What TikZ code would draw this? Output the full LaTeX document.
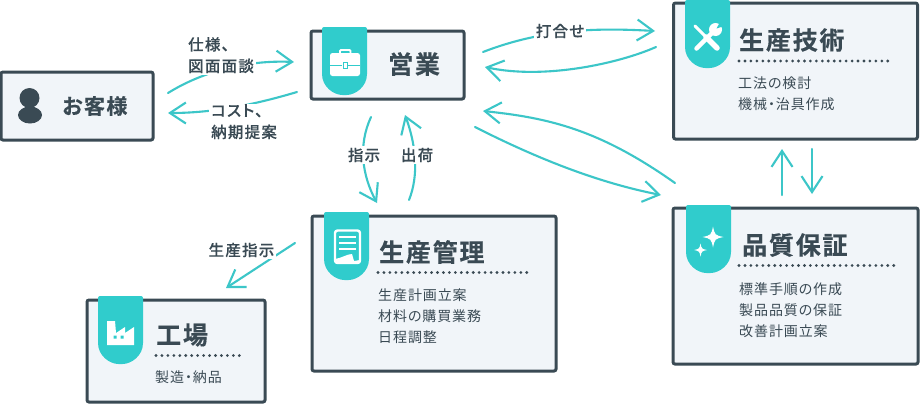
\documentclass[tikz,border=0pt]{standalone}
\usepackage{fontspec}
\usetikzlibrary{arrows.meta}
\setmainfont{Noto Sans CJK JP}[RawFeature=+palt,BoldFont={Noto Sans CJK JP Bold}]
\newfontfamily\ttlf[LetterSpace=7,RawFeature=+palt,FakeBold=0.4]{Noto Sans CJK JP Bold}
\newfontfamily\lblf[LetterSpace=8,RawFeature=+palt,FakeBold=0.15]{Noto Sans CJK JP Medium}
\newfontfamily\bodf[LetterSpace=6.5,RawFeature=+palt]{Noto Sans CJK JP}
\definecolor{ink}{HTML}{3A4A54}
\definecolor{teal}{HTML}{30CCCC}
\definecolor{arrowc}{HTML}{3CC6C8}
\definecolor{panel}{HTML}{F1F5F9}
\tikzset{
  x=1pt,y=-1pt,
  box/.style={draw=ink,fill=panel,line width=3pt,rounded corners=2pt,inner sep=0pt,outer sep=0pt},
  flow/.style={draw=arrowc,line width=2.1pt,line cap=round,-{Straight Barb[length=16pt,width=21pt,line width=2.1pt]}},
  ttl/.style={text=ink,anchor=west,inner sep=0pt,font=\ttlf\fontsize{25}{30}\selectfont},
  ttls/.style={text=ink,anchor=west,inner sep=0pt,font=\ttlf\fontsize{21}{24}\selectfont},
  bodyt/.style={text=ink,anchor=north west,inner sep=0pt,align=left,font=\bodf\fontsize{14}{21}\selectfont},
  lbl/.style={text=ink,fill=white,inner sep=2pt,align=left,font=\lblf\fontsize{15.5}{21.5}\selectfont},
  dots/.style={draw=ink,line width=3.1pt,line cap=round,dash pattern=on 0pt off 5.95pt},
}
\newcommand{\badge}[3]{% left x, top y, name
  \fill[teal,rounded corners=2pt] (#1,#2) -- (#1+45,#2) -- (#1+45,#2+45)
    .. controls (#1+45,#2+60) and (#1+33,#2+68) .. (#1+22.5,#2+68)
    .. controls (#1+12,#2+68) and (#1,#2+60) .. (#1,#2+45) -- cycle;
  \coordinate (#3) at (#1+22.5,#2+34);
}
\newcommand{\spark}[3]{% cx cy r
  \fill[white] (#1,#2-#3) .. controls (#1+0.18*#3,#2-0.18*#3) .. (#1+#3,#2)
   .. controls (#1+0.18*#3,#2+0.18*#3) .. (#1,#2+#3)
   .. controls (#1-0.18*#3,#2+0.18*#3) .. (#1-#3,#2)
   .. controls (#1-0.18*#3,#2-0.18*#3) .. (#1,#2-#3) -- cycle;
}
\begin{document}
\begin{tikzpicture}
\useasboundingbox[fill=white] (0,0) rectangle (920,405);
% boxes
\node[box,minimum width=152,minimum height=68] (kyaku) at (77,106) {};
\node[box,minimum width=153,minimum height=68] (eigyo) at (387.5,65) {};
\node[box,minimum width=244,minimum height=136] (gijutsu) at (795.5,71) {};
\node[box,minimum width=244,minimum height=155] (kanri) at (434,293.5) {};
\node[box,minimum width=178,minimum height=102] (kojo) at (176,351) {};
\node[box,minimum width=245,minimum height=156] (hosho) at (795.5,286) {};
% badges
\badge{322}{27}{bE}
\badge{685}{0}{bG}
\badge{324}{212}{bK}
\badge{98}{296}{bF}
\badge{686}{205}{bH}
% person icon
\fill[ink] (29.5,98) circle (10);
\fill[ink] (30,115) ellipse (12 and 8.5);
% briefcase
\draw[white,line width=1.8pt,rounded corners=1pt] (340,54) -- (340,50) -- (350.5,50) -- (350.5,54);
\fill[white,rounded corners=2.5pt] (330,53) rectangle (360,76);
\draw[teal,line width=1pt] (330,65) -- (342,65) (348,65) -- (360,65);
\fill[white,draw=teal,line width=.8pt] (343,62.5) rectangle (347,68);
% tools
\draw[white,line width=3pt,line cap=round] (695,26) -- (706,37);
\draw[white,line width=5.5pt,line cap=round] (706,37) -- (717,48);
\draw[white,line width=4.5pt,line cap=round] (696.5,48.5) -- (713,32);
\fill[white] (715.5,29.5) circle (6.5);
\fill[teal] (716.5,28.5) -- (720,22) -- (724,26) -- cycle;
% document
\draw[white,line width=2.4pt,line join=round,rounded corners=2.5pt] (335,263) -- (335,230.5) -- (360,230.5) -- (360,263) -- cycle;
\draw[white,line width=1.8pt] (339,237) -- (356,237) (339,243) -- (356,243) (339,249) -- (356,249);
\fill[white] (335,263) -- (335,259) .. controls (342,258) and (347,254) .. (352,254) -- (354,261) -- (360,260) -- (360,263) -- cycle;
% factory
\fill[white] (107,321) -- (115,321) -- (116,333) -- (125,327) -- (125,333) -- (134,327) -- (134,345) -- (107,345) -- cycle;
\fill[teal] (113.5,335.5) rectangle (116.5,338.5) (120.5,335.5) rectangle (123.5,338.5);
% sparkle
\spark{713}{237}{10.5}
\spark{700.5}{250}{6.5}
% titles
\node[ttls] (tK) at (62,106) {お客様};
\node[ttl] (tE) at (388,64) {営業};
\node[ttl] (tG) at (739,40) {生産技術};
\node[ttl] (tM) at (379,252) {生産管理};
\node[ttl] (tF) at (156,335) {工場};
\node[ttl] (tH) at (742,245) {品質保証};
% dotted rules
\coordinate (dG0) at (739,61); \coordinate (dG1) at (892,61);
\coordinate (dM0) at (378,272.5); \coordinate (dM1) at (531,272.5);
\coordinate (dF0) at (156,355.5); \coordinate (dF1) at (245,355.5);
\coordinate (dH0) at (739,265.5); \coordinate (dH1) at (899,265.5);
\draw[dots] (dG0) -- (dG1);
\draw[dots] (dM0) -- (dM1);
\draw[dots] (dF0) -- (dF1);
\draw[dots] (dH0) -- (dH1);
% bodies
\node[bodyt] (bG) at (738,77) {工法の検討\\機械・治具作成};
\node[bodyt] (bM) at (378,289) {生産計画立案\\材料の購買業務\\日程調整};
\node[bodyt] (bF) at (155,371) {製造・納品};
\node[bodyt] (bH) at (739,282) {標準手順の作成\\製品品質の保証\\改善計画立案};
% connector ends
\coordinate (a1s) at (168,93);  \coordinate (a1e) at (294,62);
\coordinate (a2s) at (297,92);  \coordinate (a2e) at (168,113);
\coordinate (a3s) at (371,117); \coordinate (a3e) at (377,203);
\coordinate (a4s) at (409,200); \coordinate (a4e) at (405,115);
\coordinate (a5s) at (483,52);  \coordinate (a5e) at (655,31);
\coordinate (a6s) at (656,47);  \coordinate (a6e) at (485,67);
\coordinate (a7s) at (675,183); \coordinate (a7e) at (483,111);
\coordinate (a8s) at (475,127); \coordinate (a8e) at (661,195);
\coordinate (a9s) at (782,195); \coordinate (a9e) at (782,149);
\coordinate (a10s) at (812,149); \coordinate (a10e) at (812,194);
\coordinate (a11s) at (295,243); \coordinate (a11e) at (226,288);
% connectors
\draw[flow] (a1s) .. controls (205,70) and (250,60) .. (a1e);
\draw[flow] (a2s) .. controls (250,106) and (210,113) .. (a2e);
\draw[flow] (a3s) .. controls (358,145) and (362,175) .. (a3e);
\draw[flow] (a4s) .. controls (419,175) and (416,145) .. (a4e);
\draw[flow] (a5s) .. controls (545,28) and (600,28) .. (a5e);
\draw[flow] (a6s) .. controls (620,63) and (545,80) .. (a6e);
\draw[flow] (a7s) .. controls (600,130) and (550,118) .. (a7e);
\draw[flow] (a8s) .. controls (540,160) and (600,183) .. (a8e);
\draw[flow] (a9s) -- (a9e);
\draw[flow] (a10s) -- (a10e);
\draw[flow] (a11s) -- (a11e);
% labels
\node[lbl,anchor=north west] (l1) at (186,35) {仕様、\\図面面談};
\node[lbl,anchor=north west,inner ysep=0pt] (l2) at (209,104) {コスト、\\納期提案};
\node[lbl] (l3) at (364,155) {指示};
\node[lbl] (l4) at (417,155) {出荷};
\node[lbl] (l5) at (560,31) {打合せ};
\node[lbl] (l6) at (241.5,250) {生産指示};
\end{tikzpicture}
\end{document}
